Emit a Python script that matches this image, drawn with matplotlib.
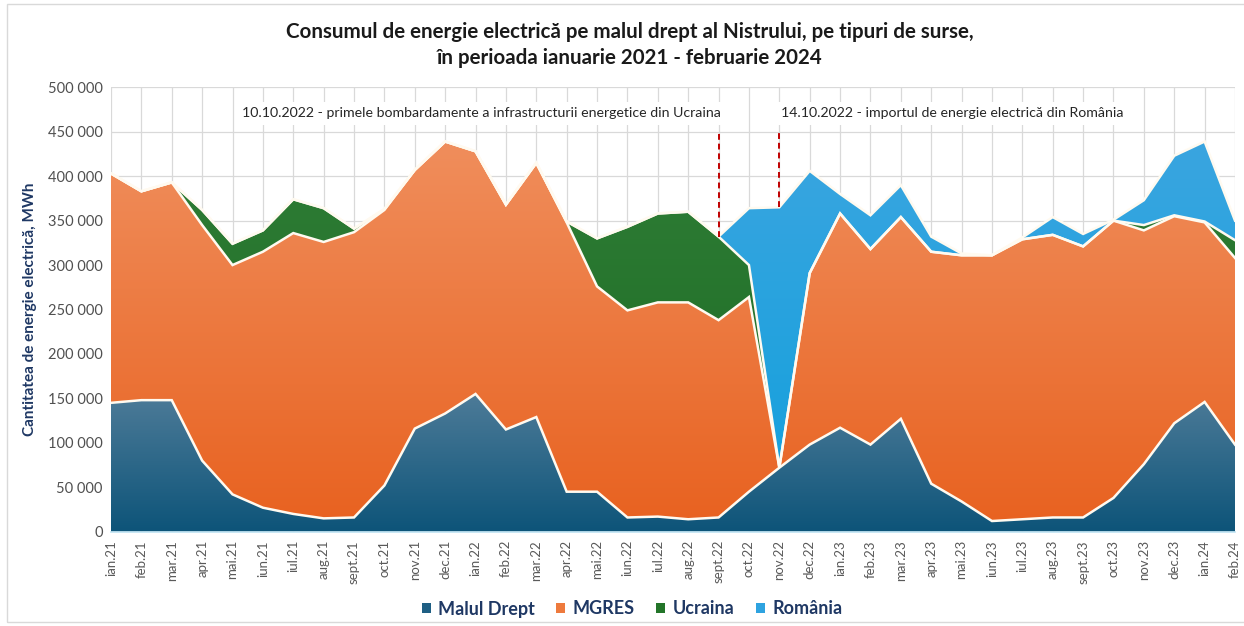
import numpy as np
import matplotlib
matplotlib.use("Agg")
import matplotlib.pyplot as plt
from matplotlib.colors import LinearSegmentedColormap
from matplotlib.patches import Patch, Rectangle

plt.rcParams['font.family'] = ['Lato', 'DejaVu Sans']

### Data (MWh) ###
months = ['ian.21', 'feb.21', 'mar.21', 'apr.21', 'mai.21', 'iun.21', 'iul.21', 'aug.21', 'sept.21',
          'oct.21', 'nov.21', 'dec.21', 'ian.22', 'feb.22', 'mar.22', 'apr.22', 'mai.22', 'iun.22',
          'iul.22', 'aug.22', 'sept.22', 'oct.22', 'nov.22', 'dec.22', 'ian.23', 'feb.23', 'mar.23',
          'apr.23', 'mai.23', 'iun.23', 'iul.23', 'aug.23', 'sept.23', 'oct.23', 'nov.23', 'dec.23',
          'ian.24', 'feb.24']

malul_drept = [145, 148, 148, 80, 42, 27, 20, 15, 16, 52, 116, 133, 155, 115, 129, 45, 45, 16,
               17, 14, 16, 45, 72, 98, 117, 98, 127, 54, 34, 12, 14, 16, 16, 38, 76, 122, 146, 98]
mgres = [258, 235, 245, 265, 258, 288, 316, 311, 321, 310, 291, 306, 273, 253, 286, 303, 231, 233,
         241, 244, 222, 219, 0, 193, 241, 220, 227, 261, 277, 299, 315, 318, 305, 312, 263, 233, 202, 210]
ucraina = [0, 0, 0, 17, 24, 24, 38, 38, 4, 1, 0, 0, 0, 0, 0, 1, 54, 94,
           100, 102, 94, 36, 0, 0, 0, 0, 0, 0, 0, 0, 0, 0, 0, 0, 6, 1, 1, 20]
romania = [0, 0, 0, 0, 0, 0, 0, 0, 0, 0, 0, 0, 0, 0, 0, 0, 0, 0,
           0, 0, 0, 64, 293, 115, 22, 38, 36, 17, 2, 0, 2, 20, 14, 1, 28, 67, 90, 22]

series = ['Malul Drept', 'MGRES', 'Ucraina', 'România']
values = [malul_drept, mgres, ucraina, romania]
# (top colour, bottom colour) of the gradient fill
colors = [('#4d7b98', '#0d5479'), ('#f08e5c', '#e8611f'), ('#2f7d36', '#1b6a22'), ('#3aa5e0', '#10a0dc')]
legend_colors = ['#1f5f84', '#ee7a3d', '#237529', '#2ea3e0']

events = [(20, '10.10.2022 - primele bombardamente a infrastructurii energetice din Ucraina'),
          (22, '14.10.2022 - importul de energie electrică din România')]


def gradient_fill(ax, x, lo, hi, c_top, c_bot):
    poly = ax.fill_between(x, lo, hi, facecolor='none', edgecolor='none')
    cmap = LinearSegmentedColormap.from_list('g', [c_bot, c_top])
    grad = np.linspace(1, 0, 256).reshape(-1, 1)
    im = ax.imshow(grad, cmap=cmap, aspect='auto', extent=[x[0], x[-1], 0, hi.max()],
                   origin='upper', zorder=2, interpolation='bilinear')
    im.set_clip_path(poly.get_paths()[0], transform=ax.transData)


fig = plt.figure(figsize=(12.44, 6.26), dpi=100)
ax = fig.add_axes([111 / 1244, 1 - 531.7 / 626, 1124 / 1244, (531.7 - 87.3) / 626])

x = np.arange(len(months))
cum = np.zeros(len(months))
tops = []
for vals, (ct, cb) in zip(values, colors):
    v = np.array(vals, dtype=float) * 1000
    gradient_fill(ax, x, cum, cum + v, ct, cb)
    cum = cum + v
    tops.append(cum.copy())
for t in tops:
    ax.plot(x, t, color='#fffaf0', linewidth=1.8, zorder=3, solid_joinstyle='miter')

# event markers
ax.vlines(events[0][0], tops[2][events[0][0]], 450000, colors='#c00000', linestyles=(0, (3, 2)),
          linewidth=1.4, zorder=4)
ax.vlines(events[1][0], tops[3][events[1][0]], 450000, colors='#c00000', linestyles=(0, (3, 2)),
          linewidth=1.4, zorder=4)
ax.text(12.2, 471000, events[0][1], ha='center', va='center', fontsize=10.2, color='#262626',
        zorder=5, bbox=dict(facecolor='white', edgecolor='none', pad=4))
ax.text(27.7, 471000, events[1][1], ha='center', va='center', fontsize=10.2, color='#262626',
        zorder=5, bbox=dict(facecolor='white', edgecolor='none', pad=4))

ax.set_xlim(0, len(months) - 1)
ax.set_ylim(0, 500000)
ax.set_xticks(x)
ax.set_xticklabels(months, rotation=90, fontsize=9.5, color='#595959')
yt = np.arange(0, 500001, 50000)
ax.set_yticks(yt)
ax.set_yticklabels([f'{v:,}'.replace(',', ' ') for v in yt], fontsize=10.5, color='#505050')
ax.tick_params(length=0, pad=6)
ax.grid(True, color='#d9d9d9', linewidth=0.9, zorder=0)
ax.set_axisbelow(True)
for s in ['top', 'right', 'left']:
    ax.spines[s].set_visible(False)
ax.spines['bottom'].set_color('#bfe3f2')
ax.spines['bottom'].set_linewidth(1.2)
ax.spines['bottom'].set_zorder(6)

ax.set_ylabel('Cantitatea de energie electrică, MWh', fontsize=11, fontweight='bold',
              color='#1f3864', labelpad=8)

fig.text(0.506, 0.928, 'Consumul de energie electrică pe malul drept al Nistrului, pe tipuri de surse,\n'
         'în perioada ianuarie 2021 - februarie 2024', ha='center', va='center', fontsize=14.8,
         fontweight='bold', color='#1a1a1a', linespacing=1.4)

handles = [Patch(facecolor=c, edgecolor='none') for c in legend_colors]
leg = fig.legend(handles, series, loc='center', bbox_to_anchor=(0.508, 1 - 609 / 626), ncol=4,
                 frameon=False, prop={'size': 13, 'weight': 'bold'}, handlelength=0.5,
                 handleheight=0.5, handletextpad=0.4, columnspacing=1.2, labelcolor='#1f3864')

fig.add_artist(Rectangle((7 / 1244, 4 / 626), 1.0, 618 / 626, transform=fig.transFigure,
                         facecolor='none', edgecolor='#d9d9d9', linewidth=1))

fig.savefig('out.png', dpi=100)
